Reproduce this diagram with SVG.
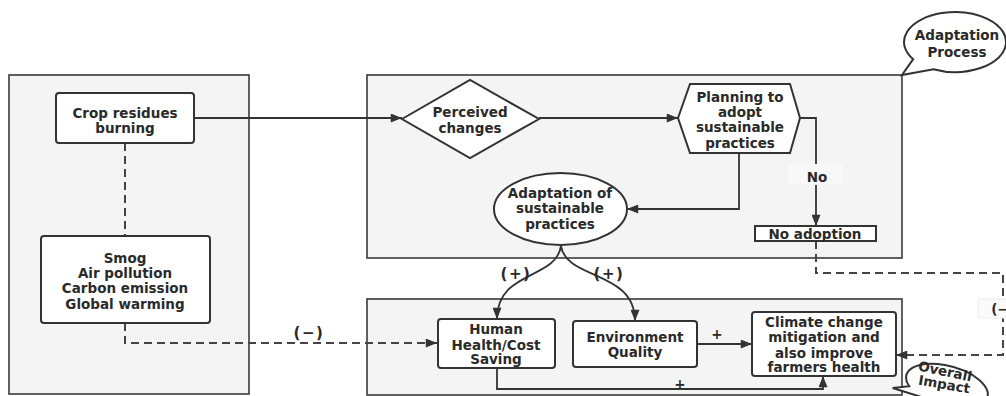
<svg xmlns="http://www.w3.org/2000/svg" width="1006" height="396" viewBox="0 0 1006 396">
<style>
.cont{fill:#f4f4f4;stroke:#3a3a3a;stroke-width:1.6}
.node{fill:#fff;stroke:#333;stroke-width:2}
.t{font-family:"DejaVu Sans",Verdana,sans-serif;font-weight:bold;font-size:13.5px;fill:#2a2a2a;text-anchor:middle}
.sg{font-size:15px;letter-spacing:1.5px}
.ln{fill:none;stroke:#333;stroke-width:1.8}
.dash{fill:none;stroke:#444;stroke-width:2;stroke-dasharray:8 5}
</style>
<defs>
<marker id="arr" viewBox="0 0 10 8" refX="10" refY="4" markerWidth="13" markerHeight="9" markerUnits="userSpaceOnUse" orient="auto"><path d="M0,0 L10,4 L0,8 z" fill="#333"/></marker>
</defs>
<rect width="1006" height="396" fill="#fff"/>
<g id="containers">
<rect class="cont" x="9" y="75" width="240" height="319"/>
<rect class="cont" x="367" y="75" width="535" height="183"/>
<rect class="cont" x="367" y="299" width="535" height="96"/>
</g>
<g id="connectors">
<path class="dash" d="M125,143 V236"/>
<path class="dash" d="M125,323 V343 H437" marker-end="url(#arr)"/>
<path class="ln" d="M194,118 H402" marker-end="url(#arr)"/>
<path class="ln" d="M539,118 H678" marker-end="url(#arr)"/>
<path class="ln" d="M800,118 H816 V226" marker-end="url(#arr)"/>
<path class="ln" d="M739,153 V209 H627" marker-end="url(#arr)"/>
<path class="ln" d="M561,246 C556,280 497,270 497,319" marker-end="url(#arr)"/>
<path class="ln" d="M561,246 C566,280 635,270 635,321" marker-end="url(#arr)"/>
<path class="ln" d="M697,344 H752" marker-end="url(#arr)"/>
<path class="ln" d="M497,368 V389 H823 V376" marker-end="url(#arr)"/>
<path class="dash" d="M816,241 V273 H1003 V355 H896" marker-end="url(#arr)"/>
<rect x="788" y="164" width="55" height="21" fill="#f8f8f8"/>
<text class="t" x="817" y="182">No</text>
<rect x="978" y="299" width="30" height="19" rx="3" fill="#fbfbfb" stroke="#eee" stroke-width="1"/>
<text class="t" x="1003" y="314">(−)</text>
<text class="t sg" x="309" y="338">(−)</text>
<text class="t sg" x="516" y="279">(+)</text>
<text class="t sg" x="609" y="279">(+)</text>
<text class="t" x="717" y="339">+</text>
<text class="t" x="680" y="389">+</text>
</g>
<g id="crop">
<rect class="node" x="56" y="93" width="138" height="50" rx="3"/>
<text class="t" x="125" y="118">Crop residues</text>
<text class="t" x="125" y="133">burning</text>
</g>
<g id="smog">
<rect class="node" x="41" y="236" width="169" height="87" rx="3"/>
<text class="t" x="125" y="263">Smog</text>
<text class="t" x="125" y="278">Air pollution</text>
<text class="t" x="125" y="293">Carbon emission</text>
<text class="t" x="125" y="309">Global warming</text>
</g>
<g id="perceived">
<polygon class="node" points="402,119 470,80 539,119 470,158"/>
<text class="t" x="470" y="117">Perceived</text>
<text class="t" x="470" y="133">changes</text>
</g>
<g id="planning">
<polygon class="node" points="678,118 690,84 790,84 800,118 790,153 690,153"/>
<text class="t" x="740" y="102">Planning to</text>
<text class="t" x="740" y="117">adopt</text>
<text class="t" x="740" y="132">sustainable</text>
<text class="t" x="740" y="148">practices</text>
</g>
<g id="adaptation">
<ellipse class="node" cx="560.5" cy="209" rx="66.5" ry="36"/>
<text class="t" x="560" y="198">Adaptation of</text>
<text class="t" x="560" y="213">sustainable</text>
<text class="t" x="560" y="229">practices</text>
</g>
<g id="noadoption">
<rect class="node" x="755" y="226" width="121" height="15"/>
<text class="t" x="815" y="239">No adoption</text>
</g>
<g id="human">
<rect class="node" x="438" y="319" width="117" height="49" rx="3"/>
<text class="t" x="496" y="334">Human</text>
<text class="t" x="496" y="350">Health/Cost</text>
<text class="t" x="496" y="364">Saving</text>
</g>
<g id="environment">
<rect class="node" x="573" y="321" width="124" height="46" rx="3"/>
<text class="t" x="635" y="342">Environment</text>
<text class="t" x="635" y="357">Quality</text>
</g>
<g id="climate">
<rect class="node" x="752" y="312" width="144" height="64" rx="3"/>
<text class="t" x="824" y="327">Climate change</text>
<text class="t" x="824" y="342">mitigation and</text>
<text class="t" x="824" y="358">also improve</text>
<text class="t" x="824" y="372">farmers health</text>
</g>
<g id="adaptation-process">
<path class="node" d="M933.4,69.2 A51,30 0 1 0 913.2,59.2 L902,75 Z"/>
<text class="t" x="957" y="40">Adaptation</text>
<text class="t" x="957" y="57">Process</text>
</g>
<g id="overall-impact">
<g transform="rotate(15 947 386)">
<path class="node" d="M926,403.3 A42,20 0 1 0 910.6,396 L895,402 Z"/>
</g>
<text class="t" x="945" y="376" font-size="12.5" transform="rotate(12 945 372)">Overall</text>
<text class="t" x="944" y="389" font-size="11.5" transform="rotate(10 944 386)">Impact</text>
</g>
</svg>
